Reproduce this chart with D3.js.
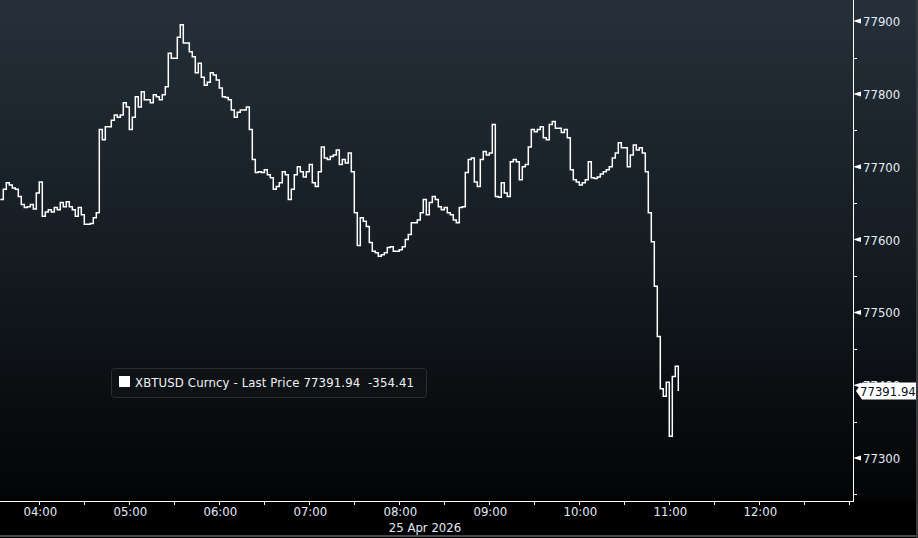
<!DOCTYPE html>
<html>
<head>
<meta charset="utf-8">
<script src="https://cdn.jsdelivr.net/npm/d3@7"></script>
<style>
html,body{margin:0;padding:0;background:#000;}
svg{display:block;}
text{font-family:"DejaVu Sans Condensed","DejaVu Sans",sans-serif;font-stretch:condensed;}
</style>
</head>
<body>
<svg id="chart" width="918" height="538"></svg>
<script>
// ---- data ----
const dateLabel = "25 Apr 2026";
const startTime = "03:34";
const stepMinutes = 2;
const prices = [
77655,77669,77678,77675,77671,77669,77659,77648,77644,77645,
77648,77642,77664,77679,77632,77638,77641,77638,77644,77641,
77651,77645,77652,77645,77641,77632,77644,77634,77621,77621,
77622,77630,77637,77751,77737,77755,77755,77764,77771,77768,
77771,77788,77782,77751,77768,77796,77782,77803,77792,77792,
77788,77799,77796,77792,77799,77810,77856,77849,77849,77878,
77895,77870,77870,77858,77851,77829,77842,77823,77812,77816,
77829,77826,77819,77808,77796,77795,77792,77778,77768,77775,
77778,77778,77782,77751,77710,77692,77693,77692,77696,77689,
77685,77669,77673,77678,77693,77689,77655,77669,77689,77700,
77693,77686,77693,77703,77678,77673,77693,77727,77712,77710,
77714,77716,77723,77703,77710,77705,77719,77693,77637,77592,
77630,77625,77618,77596,77584,77582,77577,77579,77582,77589,
77590,77584,77584,77586,77590,77600,77607,77623,77623,77627,
77637,77655,77634,77651,77659,77655,77645,77641,77644,77637,
77634,77627,77623,77644,77645,77692,77710,77712,77679,77673,
77710,77721,77716,77719,77758,77659,77658,77678,77664,77659,
77707,77710,77707,77682,77700,77703,77727,77751,77748,77751,
77755,77740,77737,77758,77762,77753,77753,77747,77751,77740,
77696,77682,77679,77675,77678,77682,77707,77685,77684,77686,
77690,77693,77696,77700,77712,77719,77733,77726,77726,77700,
77716,77730,77723,77726,77719,77693,77637,77597,77536,77467,
77395,77385,77404,77330,77412,77426,77391.94
];
const lastPrice = 77391.94;
const netChange = -354.41;
const seriesName = "XBTUSD Curncy - Last Price";
const hourTicks = ["04:00","05:00","06:00","07:00","08:00","09:00","10:00","11:00","12:00"];
const yTicks = [77300,77400,77500,77600,77700,77800,77900];
const yMinorTicks = [77250,77350,77450,77550,77650,77750,77850];
const viewStart = "03:33:48";
const viewEnd = "13:02:28";

// ---- helpers ----
const parse = s => { const p = s.split(":").map(Number); return new Date(2026,3,25,p[0],p[1],p[2]||0); };
const t0 = parse(startTime);
const data = prices.map((p,i)=>({t:new Date(t0.getTime()+i*stepMinutes*60000), v:p}));

const W = 918, H = 538;
const plotRight = 853, axisY = 501;
const svg = d3.select("#chart");

// background gradient
const defs = svg.append("defs");
const g = defs.append("linearGradient").attr("id","bg").attr("x1",0).attr("y1",0).attr("x2",0).attr("y2",1);
g.append("stop").attr("offset","0%").attr("stop-color","#25303a");
g.append("stop").attr("offset","50%").attr("stop-color","#151c22");
g.append("stop").attr("offset","100%").attr("stop-color","#030405");
svg.append("rect").attr("width",W).attr("height",H).attr("fill","#000");
svg.append("rect").attr("width",W).attr("height",axisY).attr("fill","url(#bg)");

// scales
const x = d3.scaleTime().domain([parse(viewStart), parse(viewEnd)]).range([0, plotRight]);
const y = d3.scaleLinear().domain([77241, 77929]).range([axisY, 0]);

// line
const line = d3.line().x(d=>x(d.t)).y(d=>y(d.v)).curve(d3.curveStepAfter);
svg.append("path").datum(data).attr("d",line)
  .attr("fill","none").attr("stroke","#ffffff").attr("stroke-width",1.5)
  .attr("stroke-linejoin","miter");

// x axis
const textCol = "#e2ebf4";
svg.append("line").attr("x1",0).attr("x2",plotRight).attr("y1",axisY+0.5).attr("y2",axisY+0.5)
  .attr("stroke","#fff").attr("stroke-width",1);
const halfHours = d3.timeMinute.every(30).range(parse(viewStart), parse(viewEnd));
svg.append("g").selectAll("line").data(halfHours).join("line")
  .attr("x1",d=>Math.round(x(d))+0.5).attr("x2",d=>Math.round(x(d))+0.5)
  .attr("y1",axisY).attr("y2",axisY+4).attr("stroke","#fff");
svg.append("g").selectAll("text").data(hourTicks).join("text")
  .attr("x",d=>x(parse(d))+1).attr("y",516).attr("text-anchor","middle")
  .attr("fill",textCol).attr("font-size",13).text(d=>d);
svg.append("text").attr("x",425).attr("y",532).attr("text-anchor","middle")
  .attr("fill",textCol).attr("font-size",13).text(dateLabel);

// y axis
svg.append("line").attr("x1",plotRight+0.5).attr("x2",plotRight+0.5).attr("y1",0).attr("y2",axisY+1)
  .attr("stroke","#fff").attr("stroke-width",1);
svg.append("g").selectAll("line").data(yMinorTicks).join("line")
  .attr("x1",plotRight).attr("x2",plotRight+4)
  .attr("y1",d=>Math.round(y(d))+0.5).attr("y2",d=>Math.round(y(d))+0.5).attr("stroke","#fff");
svg.append("g").selectAll("path").data(yTicks).join("path")
  .attr("d",d=>{const yy=y(d); return `M${plotRight},${yy}L${plotRight+8},${yy-2.5}L${plotRight+8},${yy+2.5}Z`;})
  .attr("fill","#fff");
svg.append("g").selectAll("text").data(yTicks).join("text")
  .attr("x",863).attr("y",d=>y(d)+5)
  .attr("fill",textCol).attr("font-size",13).text(d=>d);

// last price tag
const ly = y(lastPrice);
svg.append("path")
  .attr("d",`M${plotRight+3},${ly}L${plotRight+9},${ly-8.5}L917,${ly-8.5}L917,${ly+8.5}L${plotRight+9},${ly+8.5}Z`)
  .attr("fill","#fff");
svg.append("text").attr("x",860).attr("y",ly+5).attr("fill","#0a1020").attr("font-size",13)
  .text(lastPrice.toFixed(2));

// legend
const lg = svg.append("g");
lg.append("rect").attr("x",111.5).attr("y",368.5).attr("width",315).attr("height",29).attr("rx",3)
  .attr("fill","#0f1215").attr("stroke","#2a2f35");
lg.append("rect").attr("x",119).attr("y",376).attr("width",11).attr("height",11).attr("fill","#fff");
lg.append("text").attr("x",135).attr("y",387).attr("fill","#eef2f6").attr("font-size",13)
  .attr("xml:space","preserve").attr("textLength",279).attr("lengthAdjust","spacing")
  .text(`${seriesName} ${lastPrice.toFixed(2)}  ${netChange.toFixed(2)}`);

// frame
svg.append("rect").attr("x",0).attr("y",535).attr("width",W).attr("height",2).attr("fill","#4a4a4a");
svg.append("rect").attr("x",916).attr("y",0).attr("width",2).attr("height",H).attr("fill","#3a3a3a");
</script>
</body>
</html>
